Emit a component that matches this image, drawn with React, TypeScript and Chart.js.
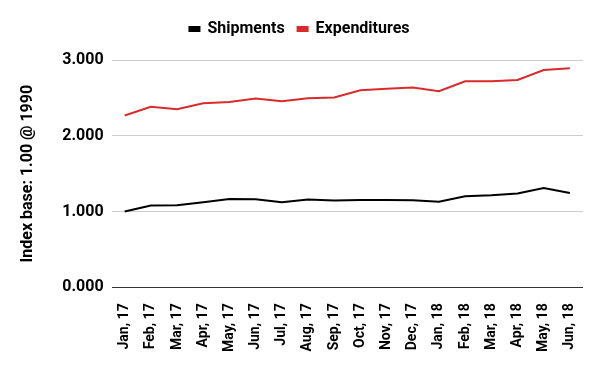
import React, { useEffect, useRef } from "react";
import { Chart, registerables } from "chart.js";

Chart.register(...registerables);

const categories = ["Jan, 17", "Feb, 17", "Mar, 17", "Apr, 17", "May, 17", "Jun, 17", "Jul, 17", "Aug, 17", "Sep, 17", "Oct, 17", "Nov, 17", "Dec, 17", "Jan, 18", "Feb, 18", "Mar, 18", "Apr, 18", "May, 18", "Jun, 18"];
const shipments = [1.0, 1.079, 1.082, 1.122, 1.167, 1.162, 1.122, 1.158, 1.145, 1.154, 1.154, 1.149, 1.128, 1.201, 1.214, 1.237, 1.312, 1.246];
const expenditures = [2.267, 2.382, 2.351, 2.43, 2.447, 2.491, 2.457, 2.496, 2.504, 2.601, 2.622, 2.636, 2.588, 2.72, 2.72, 2.737, 2.868, 2.891];
const yTicks = [0, 1, 2, 3];

const FONT = "Roboto";

const legendMargin = {
  id: "legendMargin",
  beforeInit(chart: any) {
    const fit = chart.legend.fit;
    chart.legend.fit = function () {
      fit.call(this);
      this.height += 13;
    };
  },
};

export default function App() {
  const ref = useRef<HTMLCanvasElement>(null);
  useEffect(() => {
    document.body.style.margin = "0";
    const chart = new Chart(ref.current!, {
      type: "line",
      data: {
        labels: categories,
        datasets: [
          { label: "Shipments", data: shipments, borderColor: "#000000", backgroundColor: "#000000", borderWidth: 2, pointRadius: 0, tension: 0 },
          { label: "Expenditures", data: expenditures, borderColor: "#d92b2b", backgroundColor: "#d92b2b", borderWidth: 2, pointRadius: 0, tension: 0 },
        ],
      },
      plugins: [legendMargin],
      options: {
        animation: false,
        responsive: false,
        layout: { padding: { top: 8, right: 17, bottom: 11, left: 16 } },
        plugins: {
          legend: {
            position: "top",
            labels: { boxWidth: 10, boxHeight: 4, color: "#000", font: { family: FONT, size: 16, weight: "bold" }, padding: 13 },
          },
          tooltip: { enabled: false },
        },
        scales: {
          x: {
            offset: true,
            grid: { display: false },
            border: { display: false },
            ticks: { color: "#000", maxRotation: 90, minRotation: 90, autoSkip: false, font: { family: FONT, size: 14, weight: "bold" }, padding: 8 },
          },
          y: {
            min: 0,
            max: 3,
            afterBuildTicks: (axis: any) => { axis.ticks = yTicks.map((v) => ({ value: v })); },
            grid: {
              color: (ctx: any) => (ctx.tick && ctx.tick.value === 0 ? "#333333" : "#cccccc"),
              lineWidth: 1,
              drawTicks: false,
            },
            border: { display: false },
            ticks: { color: "#000", padding: 8, font: { family: FONT, size: 16, weight: "bold" }, callback: (v: any) => Number(v).toFixed(3) },
            title: { display: true, text: "Index base: 1.00 @ 1990", color: "#000", font: { family: FONT, size: 16, weight: "bold" }, padding: { top: 2, bottom: 17 } },
          },
        },
      },
    });
    return () => chart.destroy();
  }, []);
  return (
    <div style={{ width: 600, height: 371 }}>
      <canvas ref={ref} width={600} height={371} style={{ width: 600, height: 371 }} />
    </div>
  );
}
